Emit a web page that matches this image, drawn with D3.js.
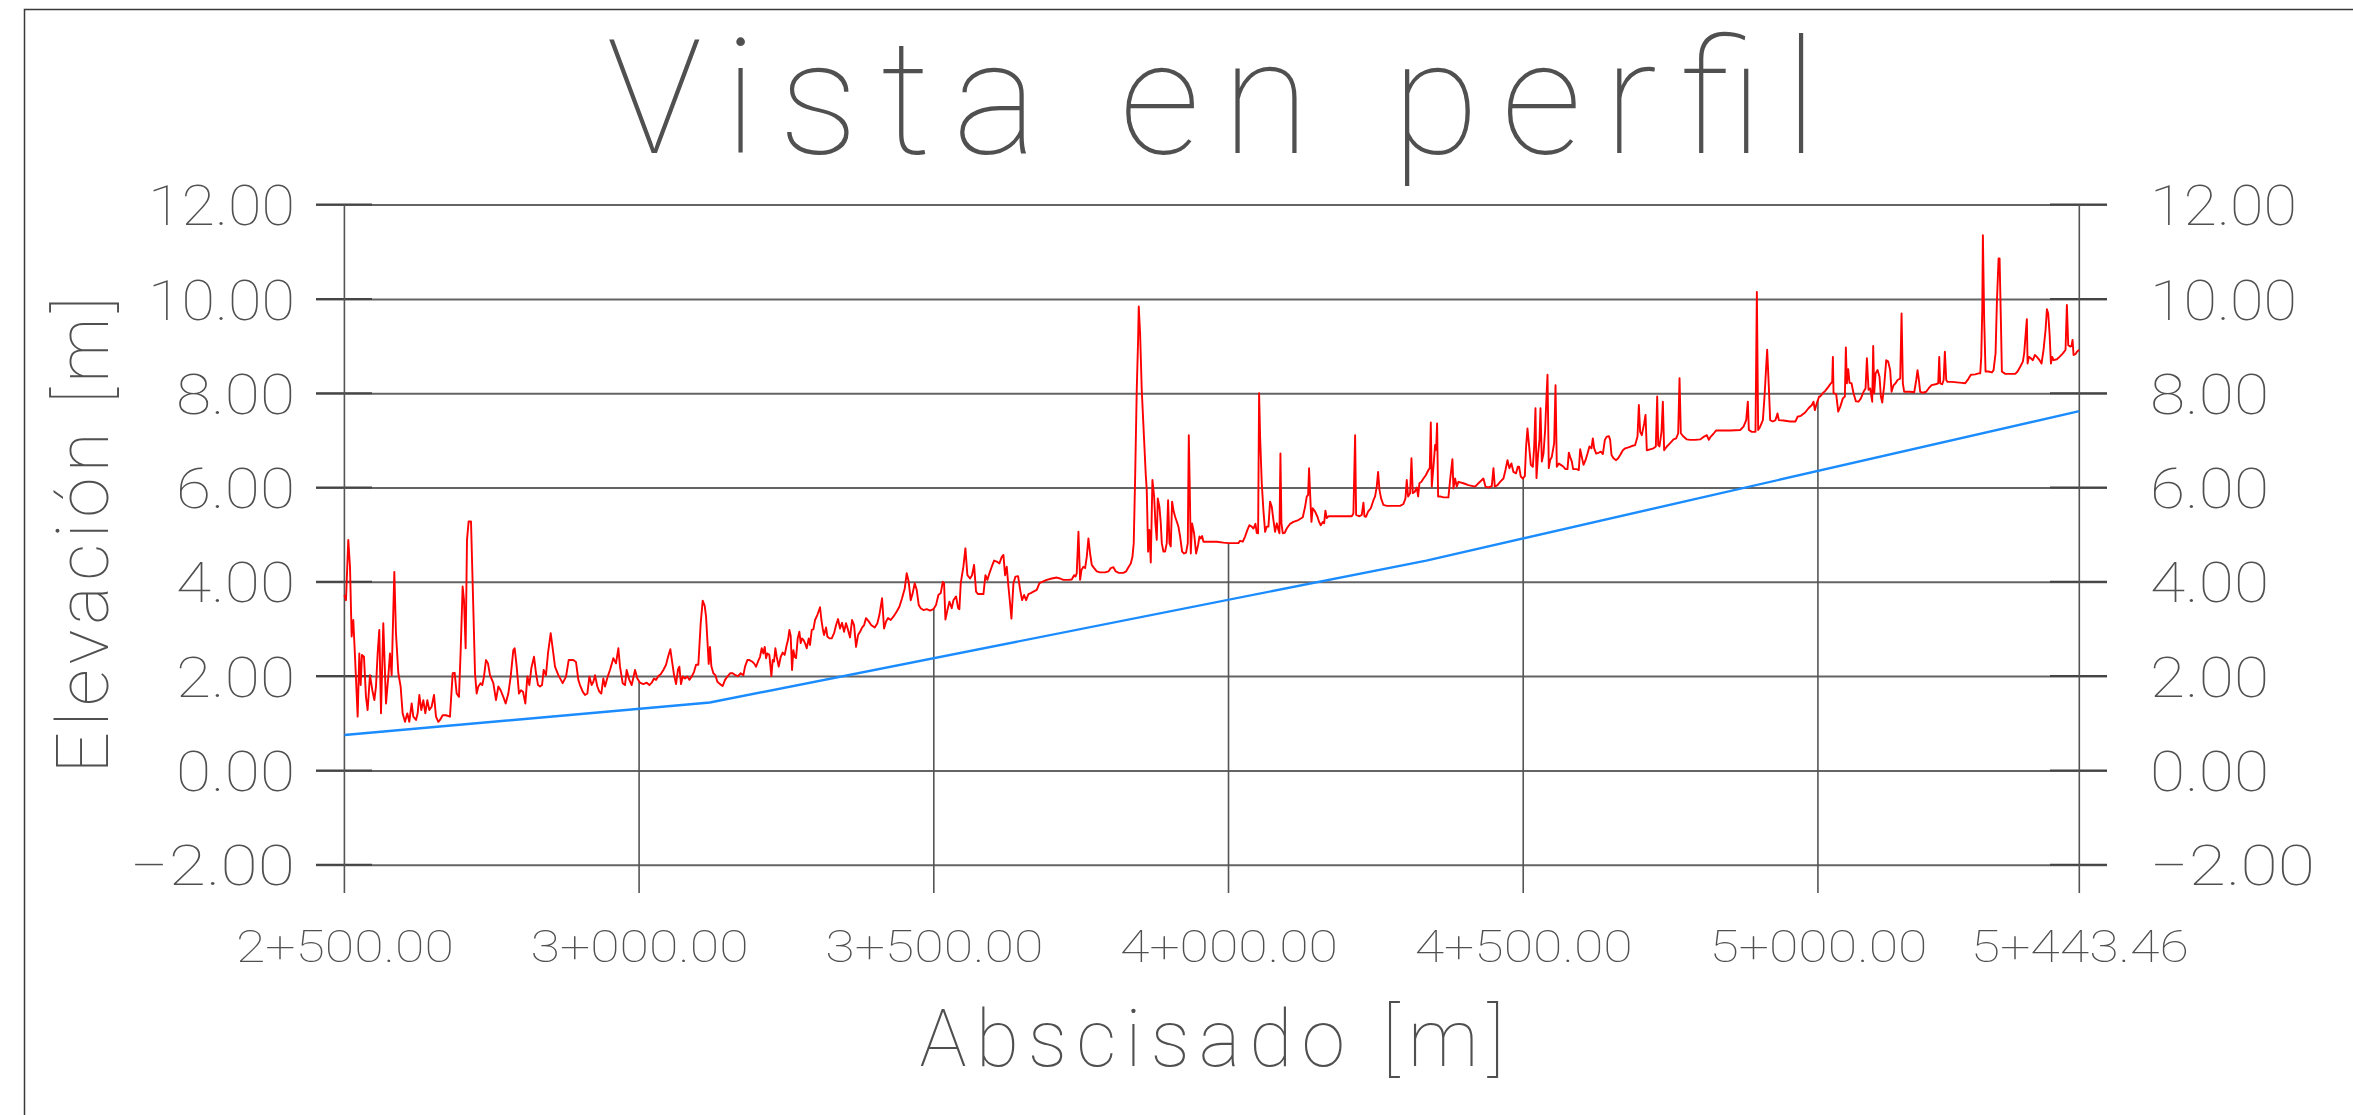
<!DOCTYPE html>
<html>
<head>
<meta charset="utf-8">
<script src="https://cdn.jsdelivr.net/npm/d3@7"></script>
<style>
body { margin: 0; background: #fff; }
text { font-family: Roboto, "Open Sans", sans-serif; font-weight: 100; fill: #505050; }
</style>
</head>
<body>
<div class="chart"></div>
<script>
const tramo1 = [[2500,3.72],[2502.7,3.61],[2506.6,4.89],[2509.5,4.32],[2512.3,2.84],[2515.1,3.19],[2518,2.41],[2522.5,1.14],[2525.3,2.48],[2527.6,1.81],[2529.8,2.45],[2533.2,2.41],[2536.6,1.56],[2539.4,1.28],[2543.4,2.02],[2547.4,1.70],[2550.8,1.49],[2553.6,1.78],[2556.4,2.48],[2559.2,2.98],[2562.1,1.21],[2566,3.12],[2570.6,1.42],[2574.5,1.99],[2577.3,2.48],[2580.2,2.02],[2583,3.40],[2584.7,4.21],[2587.5,2.91],[2591.5,2.06],[2595.4,1.78],[2598.8,1.21],[2602.8,1.03],[2606.8,1.21],[2610.1,1.03],[2614.1,1.42],[2616.9,1.14],[2621.5,1.07],[2624.3,1.21],[2627.1,1.60],[2630.5,1.28],[2633.9,1.49],[2637.3,1.21],[2640.7,1.49],[2644.1,1.28],[2648,1.35],[2652,1.60],[2655.4,1.14],[2659.4,1.03],[2662.2,1.07],[2666.7,1.17],[2672.4,1.17],[2679.1,1.14],[2683.7,2.06],[2687.1,2.07],[2690.5,1.63],[2694.4,1.56],[2697.3,2.55],[2700.6,3.90],[2702.9,3.61],[2705.7,2.59],[2708,4.89],[2710.8,5.28],[2714.8,5.28],[2717.6,3.97],[2721.6,2.06],[2724.4,1.63],[2727.2,1.78],[2731.2,1.85],[2734,1.81],[2736.8,1.99],[2740.2,2.34],[2743.6,2.27],[2747,2.02],[2752.7,1.85],[2757.2,1.49],[2761.2,1.78],[2765.1,1.70],[2769.6,1.56],[2773.6,1.42],[2778.1,1.63],[2782.1,1.99],[2786.6,2.55],[2788.9,2.59],[2792.3,2.20],[2796.2,1.63],[2799.6,1.70],[2803,1.67],[2807,1.42],[2810.4,1.99],[2813.8,1.81],[2817.2,2.17],[2821.7,2.41],[2825.1,2.06],[2828.5,1.81],[2831.9,1.78],[2835.3,1.81],[2838.1,2.13],[2842,2.02],[2845.4,2.48],[2850,2.91],[2853.4,2.59],[2857.3,2.20],[2863,2.02],[2870.3,1.85],[2876,1.99],[2880.5,2.34],[2888.4,2.34],[2892.9,2.30],[2896.9,1.92],[2899.7,1.81],[2904.3,1.67],[2908.2,1.60],[2912.2,1.63],[2915.6,1.99],[2919.5,1.81],[2922.4,1.88],[2925.2,2.02],[2929.1,1.78],[2932.5,1.67],[2935.9,1.63],[2939.3,1.95],[2942.2,1.78],[2946.7,1.99],[2950.6,2.13],[2956.3,2.38],[2960.8,2.27],[2964.8,2.59],[2967.6,2.20],[2972.1,1.85],[2976.1,1.81],[2978.9,2.13],[2983.4,1.92],[2987.4,1.81],[2993.1,2.13],[2997,1.95],[3001.5,1.86]];

const tramo2 = [[3007.2,1.83],[3012.9,1.86],[3017.4,1.81],[3021.4,1.86],[3025.3,1.95],[3028.7,1.92],[3032.7,2.00],[3036.6,2.04],[3041.2,2.13],[3045.7,2.24],[3049.6,2.43],[3053,2.57],[3055.9,2.31],[3059.3,2.02],[3062.7,1.83],[3066,2.14],[3068.3,2.20],[3071.1,1.83],[3074,1.99],[3077.9,1.95],[3081.9,1.99],[3085.3,1.92],[3089.2,1.99],[3093.2,2.09],[3096.6,2.24],[3100.5,2.24],[3104.5,3.12],[3107.9,3.60],[3111.3,3.49],[3113.6,3.26],[3115.8,2.77],[3118.1,2.26],[3120.3,2.62],[3122.6,2.21],[3126,2.06],[3129.4,2.02],[3132.8,1.88],[3137.3,1.83],[3141.8,1.79],[3145.8,1.92],[3149.8,1.99],[3154.4,2.06],[3158.8,2.06],[3163.3,2.02],[3167.9,2.00],[3172.4,2.06],[3176.9,2.02],[3179.7,2.20],[3183.7,2.34],[3187.1,2.34],[3191.6,2.31],[3195,2.27],[3198.4,2.20],[3201.8,2.31],[3205.2,2.41],[3208,2.59],[3210.8,2.48],[3213.1,2.62],[3215.4,2.38],[3217.6,2.48],[3221,2.45],[3224.4,2.00],[3226.7,2.34],[3228.9,2.31],[3231.2,2.59],[3233.5,2.41],[3236.9,2.20],[3240.3,2.41],[3243.6,2.50],[3247,2.45],[3250.4,2.66],[3252.7,2.77],[3255,2.98],[3257.2,2.85],[3259.5,2.13],[3261.7,2.55],[3264,2.41],[3266.3,2.38],[3269.1,2.80],[3271.9,2.94],[3274.2,2.70],[3276.4,2.80],[3278.7,2.77],[3281.5,2.70],[3284.4,2.59],[3287.8,2.80],[3290,2.66],[3292.9,2.98],[3295.7,2.99],[3298.5,3.19],[3302.5,3.30],[3307,3.46],[3309.3,3.19],[3311.5,3.01],[3313.8,2.87],[3317.2,3.03],[3319.4,2.84],[3322.8,2.80],[3326.8,2.80],[3330.8,2.91],[3334.1,3.08],[3337.5,3.21],[3340.9,3.01],[3344.3,3.13],[3347.7,2.94],[3351.1,3.12],[3354.5,2.98],[3357.9,2.82],[3361.3,3.19],[3364.7,3.08],[3368.1,2.62],[3371.5,2.87],[3374.9,2.94],[3378.3,3.03],[3381.7,3.08],[3385,3.23],[3389.6,3.16],[3394.1,3.08],[3399.8,3.03],[3404.3,3.12],[3407.7,3.30],[3412.2,3.65],[3415.6,3.01],[3419,3.16],[3422.4,3.23],[3426.9,3.19],[3431.4,3.26],[3437.1,3.37],[3441.6,3.47],[3446.1,3.65],[3450.7,3.86],[3454,4.18],[3457.4,4.00],[3460.8,3.61],[3464.2,3.76],[3467.6,3.97],[3471,3.83],[3474.4,3.51],[3477.8,3.44],[3482.3,3.40],[3488,3.42],[3493.6,3.39]];

const tramo3 = [[3499.3,3.42],[3503.8,3.51],[3507.8,3.72],[3511.8,3.76],[3515.2,4.00],[3517.4,3.97],[3519.7,3.20],[3523.1,3.40],[3526.5,3.58],[3530.4,3.44],[3533.3,3.61],[3537.8,3.69],[3541.2,3.44],[3543.4,3.42],[3545.7,3.97],[3550.2,4.32],[3553.6,4.71],[3557,4.14],[3561.5,4.07],[3564.9,4.14],[3568.3,4.36],[3571.7,3.79],[3575.1,3.74],[3579.6,3.74],[3584.2,3.74],[3587.6,4.14],[3590.9,4.04],[3594.3,4.18],[3598.3,4.32],[3602.3,4.45],[3606.8,4.43],[3611.3,4.39],[3615.3,4.53],[3618.1,4.57],[3620.9,4.14],[3623.8,4.32],[3626.6,3.90],[3629.4,3.54],[3631.7,3.22],[3635.1,3.97],[3638.5,4.11],[3643,4.12],[3646.5,3.83],[3649.8,3.61],[3653.2,3.72],[3656.6,3.61],[3660.5,3.74],[3664.5,3.76],[3669,3.79],[3674.7,3.83],[3679.2,3.97],[3683.7,4.00],[3691.6,4.04],[3700.1,4.07],[3708.6,4.09],[3714.3,4.07],[3719.9,4.04],[3728.4,4.04],[3734,4.05],[3738,4.14],[3740.3,4.11],[3742.5,4.18],[3745.4,5.06],[3748.2,4.04],[3750.5,4.25],[3753.8,4.32],[3756.7,4.29],[3759.5,4.53],[3762.3,4.92],[3765.2,4.60],[3768,4.36],[3772,4.29],[3776.5,4.22],[3782.1,4.20],[3790.6,4.20],[3796.3,4.22],[3800.2,4.29],[3804.7,4.31],[3808.7,4.22],[3813.8,4.19],[3821.7,4.19],[3826.2,4.22],[3830.2,4.31],[3834.2,4.39],[3837,4.53],[3839.2,4.82],[3841.5,6.16],[3844.3,8.07],[3846.6,9.13],[3847.7,9.84],[3850,9.27],[3852.8,8.07],[3856.8,7.01],[3859.6,6.27],[3861.3,5.95],[3863.6,4.64],[3865.8,5.10],[3868.1,4.41],[3870.9,6.16],[3873.8,5.81],[3876,5.24],[3878.3,4.89],[3880,5.77],[3882.8,5.59],[3885.1,5.24],[3886.8,4.82],[3889.6,4.64],[3892.4,4.64],[3895.2,4.82],[3897.5,5.73],[3899.8,4.82],[3902,4.75],[3904.3,5.70],[3906.6,5.52],[3909.4,5.38],[3912.2,5.28],[3915,5.17],[3917.9,4.96],[3921.3,4.64],[3924.6,4.60],[3928,4.62],[3930.9,4.82],[3932.6,7.11],[3934.3,5.95],[3936,4.60],[3938.2,5.24],[3941.6,5.03],[3945,4.60],[3948.4,4.78],[3950.7,4.96],[3952.9,4.92],[3955.2,4.97],[3957.5,4.85],[3968.8,4.85],[3980.1,4.85],[3991.4,4.83],[3999.9,4.82]];

const tramo4 = [[4008.3,4.82],[4016.8,4.82],[4019.6,4.87],[4024.2,4.85],[4028.1,4.96],[4032.1,5.10],[4035.5,5.20],[4039.4,5.17],[4042.3,5.13],[4045.7,5.23],[4047.9,5.04],[4050.2,5.03],[4051.9,8.00],[4053.6,7.08],[4056.4,6.09],[4059.2,5.52],[4062.1,5.06],[4064.9,5.17],[4067.7,5.17],[4070.5,5.70],[4073.4,5.59],[4076.2,5.31],[4079,5.06],[4081.9,5.24],[4084.7,5.10],[4086.4,5.03],[4088.1,6.72],[4089.8,5.24],[4092,5.03],[4095.4,5.04],[4098.8,5.13],[4104.5,5.23],[4110.1,5.27],[4118.6,5.31],[4126,5.37],[4129.9,5.59],[4132.8,5.81],[4135,5.84],[4136.7,6.41],[4138.4,5.88],[4140.7,5.27],[4142.9,5.56],[4146.9,5.49],[4150.9,5.38],[4153.7,5.27],[4156.5,5.20],[4159.9,5.27],[4162.2,5.24],[4164.4,5.51],[4166.7,5.35],[4169.5,5.39],[4178,5.39],[4189.3,5.39],[4200.6,5.39],[4209.1,5.39],[4211.9,5.45],[4214.8,7.11],[4216.5,5.42],[4222.1,5.39],[4226.1,5.42],[4228.9,5.68],[4230.6,5.39],[4233.4,5.38],[4236.8,5.49],[4241.4,5.56],[4245.9,5.73],[4248.7,5.81],[4251.5,6.02],[4253.8,6.33],[4256.1,5.95],[4258.9,5.77],[4262.8,5.63],[4268.5,5.61],[4279.8,5.61],[4291.1,5.61],[4296.8,5.65],[4300.2,5.77],[4302.4,6.16],[4304.7,5.81],[4308.1,5.88],[4310.4,6.62],[4312.6,5.88],[4316,5.91],[4319.4,6.00],[4321.7,5.81],[4323.9,6.09],[4327.3,6.12],[4330.7,6.19],[4334.7,6.26],[4339.2,6.37],[4341.5,6.41],[4343.2,7.38],[4344.9,6.02],[4347.7,6.44],[4350.5,6.90],[4352.2,6.80],[4353.9,7.36],[4355.6,5.81],[4359,5.81],[4364.7,5.79],[4373.1,5.79],[4376,6.16],[4378.2,6.41],[4379.9,6.60],[4381.6,5.98],[4384.4,6.19],[4387.3,6.02],[4390.1,6.12],[4398.6,6.09],[4407.1,6.05],[4418.4,6.02],[4424,6.09],[4432.5,6.19],[4435.9,6.02],[4441,6.00],[4446.7,6.03],[4449.5,6.41],[4451.8,6.02],[4456.3,6.05],[4460.8,6.12],[4466.5,6.19],[4469.9,6.37],[4473.3,6.58],[4476.6,6.41],[4480,6.51],[4483.4,6.33],[4487.9,6.30],[4490.8,6.44],[4493,6.44],[4495.9,6.23],[4499.3,6.19],[4502.7,6.24],[4504.9,6.87],[4507.2,7.25],[4509.5,6.94],[4511.7,6.65]];

const tramo5 = [[4512.9,6.48],[4516.3,6.44],[4518.6,6.87],[4520.8,7.68],[4522.5,6.20],[4525.3,6.72],[4527.6,7.01],[4529.3,7.68],[4531.6,6.55],[4534.4,6.72],[4537.2,7.22],[4538.9,7.75],[4541.2,8.39],[4543.4,6.41],[4545.7,6.58],[4548.5,6.65],[4552.5,6.94],[4554.8,8.17],[4557,6.44],[4560.4,6.51],[4563.8,6.48],[4568.3,6.44],[4571.7,6.39],[4575.1,6.39],[4577.4,6.74],[4579.6,6.65],[4582.5,6.55],[4584.7,6.39],[4591,6.39],[4594.3,6.37],[4596.6,6.81],[4599.4,6.65],[4602.3,6.48],[4605.7,6.58],[4609.1,6.72],[4612.4,6.87],[4615.8,6.83],[4618.1,7.04],[4620.4,6.83],[4623.8,6.72],[4628.3,6.74],[4631.7,6.76],[4635.1,6.71],[4638.5,7.01],[4641.9,7.08],[4645.3,7.09],[4647.5,7.01],[4649.8,6.69],[4653.2,6.62],[4657.7,6.58],[4661.1,6.62],[4664.5,6.69],[4669,6.79],[4673,6.83],[4678.6,6.85],[4684.3,6.88],[4689.9,6.90],[4693.9,7.08],[4696.2,7.75],[4698.4,7.18],[4701.2,7.11],[4705.2,7.36],[4707.5,7.54],[4709.7,6.79],[4715.4,6.81],[4721,6.83],[4725,6.87],[4727.3,7.93],[4729,6.90],[4731.2,6.87],[4734.6,7.18],[4736.9,7.82],[4739.1,6.79],[4743.7,6.87],[4749.3,6.94],[4755,7.02],[4759.5,7.04],[4762.9,7.15],[4765.2,8.32],[4767.4,7.15],[4771.9,7.08],[4777.6,7.02],[4783.3,7.01],[4791.7,7.01],[4800.2,7.02],[4807,7.08],[4811.5,7.11],[4814.9,7.01],[4818.3,7.08],[4822.8,7.14],[4827.4,7.21],[4834.2,7.21],[4851.1,7.21],[4868.1,7.22],[4873.8,7.29],[4878.3,7.43],[4881.1,7.82],[4882.8,7.22],[4887.9,7.18],[4894.1,7.18],[4896.4,10.15],[4898.6,7.22],[4902,7.29],[4906.6,7.43],[4909.4,7.93],[4912.2,8.56],[4913.9,8.92],[4916.7,8.14],[4919,7.43],[4923.5,7.40],[4928,7.43],[4931.4,7.57],[4933.7,7.43],[4941.6,7.42],[4952.9,7.40],[4962,7.40],[4965.4,7.50],[4971,7.52],[4978.4,7.59],[4984,7.68],[4989.7,7.75],[4992.5,7.82],[4994.8,7.64],[4998.2,7.79],[5002.1,7.93]];

const tramo6 = [[5003.9,7.93],[5008.4,8.00],[5012.4,8.05],[5018,8.14],[5022,8.21],[5024.2,8.24],[5025.4,8.77],[5026.5,8.00],[5031,7.98],[5034.4,7.61],[5037.8,7.71],[5042.3,7.89],[5045.7,7.93],[5047.4,8.97],[5049.1,8.21],[5051.4,8.51],[5053.6,8.22],[5057,8.21],[5060.4,8.00],[5064.4,7.83],[5068.9,7.82],[5072.9,7.89],[5077.4,8.03],[5080.8,8.10],[5083.1,8.74],[5085.9,8.07],[5088.7,8.10],[5092.1,7.82],[5093.8,9.00],[5095.5,8.00],[5097.8,8.42],[5101.2,8.49],[5104.5,8.35],[5106.8,7.93],[5109.1,7.80],[5112.5,8.17],[5115.9,8.70],[5119.2,8.67],[5122.6,8.49],[5124.9,8.03],[5128.3,8.17],[5131.7,8.21],[5135.1,8.28],[5139.6,8.31],[5141.9,9.69],[5144.1,8.21],[5146.4,8.03],[5156.6,8.03],[5163.4,8.02],[5166.8,8.28],[5169,8.49],[5171.3,8.28],[5173.5,8.03],[5178.1,8.01],[5183.7,8.03],[5187.7,8.10],[5192.8,8.17],[5199.6,8.19],[5204.1,8.21],[5205.8,8.77],[5207.5,8.21],[5210.9,8.19],[5213.3,8.28],[5215.4,8.88],[5217.7,8.28],[5219.9,8.24],[5227.3,8.24],[5235.8,8.23],[5244.2,8.22],[5249.9,8.21],[5255.6,8.31],[5259.5,8.39],[5266.9,8.40],[5272.5,8.42],[5275.4,8.42],[5277.1,8.77],[5278.8,9.76],[5279.9,11.35],[5282.1,9.55],[5284.4,8.46],[5289.5,8.46],[5295.2,8.44],[5298,8.49],[5301.4,8.85],[5303.6,9.91],[5306.5,10.86],[5308.2,10.86],[5310.4,9.55],[5312.1,8.46],[5317.8,8.41],[5326.3,8.41],[5334.7,8.41],[5338.7,8.46],[5343.2,8.56],[5347.7,8.67],[5350,8.85],[5353.4,9.41],[5354.5,9.57],[5355.7,8.63],[5357.9,8.77],[5361.3,8.74],[5364.7,8.70],[5368.1,8.81],[5371.5,8.77],[5376,8.70],[5379.4,8.63],[5382.8,8.92],[5386.2,9.34],[5388.5,9.78],[5390.7,9.69],[5393,9.27],[5395.3,8.63],[5397.5,8.77],[5399.8,8.70],[5405.4,8.72],[5409.9,8.77],[5414.5,8.83],[5417.9,8.88],[5420.1,8.92],[5422.4,9.87],[5424.7,9.02],[5428.1,8.99],[5430.3,9.00],[5432,9.13],[5433.7,8.81],[5437.1,8.83],[5439.4,8.88],[5443.46,8.92]];

// rasante (linea azul)
const rasanteEst = [2500, 3120, 4335.6, 5443.46];
const rasanteCota = [0.75, 1.44, 4.45, 7.62];

const abscisas = [2500, 3000, 3500, 4000, 4500, 5000, 5443.46];
const cotas = [-2, 0, 2, 4, 6, 8, 10, 12];

const terreno = tramo1.concat(tramo2, tramo3, tramo4, tramo5, tramo6);
const rasante = rasanteEst.map((s, i) => [s, rasanteCota[i]]);

const width = 2353, height = 1115;
const gridLeft = 316, gridRight = 2107, bottomY = 893;

const svg = d3.select('.chart')
    .append('svg')
    .attr('width', width)
    .attr('height', height);

const xScale = d3.scaleLinear()
    .domain([2500, 5443.46])
    .range([344.4, 2079.3]);

const yScale = d3.scaleLinear()
    .domain([-2, 12])
    .range([864.7, 204.6]);

// marco
svg.append('path')
    .attr('d', 'M24.5,1115V9.5H2353')
    .attr('fill', 'none')
    .attr('stroke', '#3a3a3a')
    .attr('stroke-width', 1.5);

const fmtCota = d3.format('.2f');
const labelLen = d => d < 0 ? 165 : (d >= 10 ? 147 : 119);

// rejilla horizontal + etiquetas izquierda
const yAxisL = d3.axisLeft(yScale)
    .tickValues(cotas)
    .tickFormat(fmtCota)
    .tickSize(gridRight - gridLeft)
    .tickPadding(21);

const gL = svg.append('g')
    .attr('class', 'axis y-left')
    .attr('transform', `translate(${gridRight},0)`)
    .call(yAxisL);
gL.select('.domain').remove();
gL.selectAll('line').attr('stroke', '#646464').attr('stroke-width', 2);
gL.selectAll('text')
    .attr('font-size', 56)
    .attr('dy', '0.36em')
    .attr('textLength', labelLen)
    .attr('lengthAdjust', 'spacingAndGlyphs');

// etiquetas derecha
const yAxisR = d3.axisRight(yScale)
    .tickValues(cotas)
    .tickFormat(fmtCota)
    .tickSize(gridRight - gridLeft)
    .tickPadding(43);

const gR = svg.append('g')
    .attr('class', 'axis y-right')
    .attr('transform', `translate(${gridLeft},0)`)
    .call(yAxisR);
gR.select('.domain').remove();
gR.selectAll('line').attr('stroke', 'none');
gR.selectAll('text')
    .attr('font-size', 56)
    .attr('dy', '0.36em')
    .attr('textLength', labelLen)
    .attr('lengthAdjust', 'spacingAndGlyphs');

// marcas cortas mas oscuras junto a los ejes
svg.append('g').selectAll('line')
    .data(cotas)
    .join('line')
    .attr('x1', gridLeft).attr('x2', gridLeft + 56)
    .attr('y1', d => yScale(d)).attr('y2', d => yScale(d))
    .attr('stroke', '#444').attr('stroke-width', 2);
svg.append('g').selectAll('line')
    .data(cotas)
    .join('line')
    .attr('x1', gridRight - 57).attr('x2', gridRight)
    .attr('y1', d => yScale(d)).attr('y2', d => yScale(d))
    .attr('stroke', '#444').attr('stroke-width', 2);

// cota del terreno en una abscisa
const bis = d3.bisector(d => d[0]).left;
function cotaTerreno(s) {
    const i = bis(terreno, s);
    if (i <= 0) return terreno[0][1];
    if (i >= terreno.length) return terreno[terreno.length - 1][1];
    const a = terreno[i - 1], b = terreno[i];
    return a[1] + (b[1] - a[1]) * (s - a[0]) / (b[0] - a[0]);
}

// lineas verticales
svg.append('g').selectAll('line')
    .data(abscisas)
    .join('line')
    .attr('x1', d => xScale(d)).attr('x2', d => xScale(d))
    .attr('y1', (d, i) => (i === 0 || i === abscisas.length - 1) ? yScale(12) : yScale(cotaTerreno(d)))
    .attr('y2', bottomY)
    .attr('stroke', '#555')
    .attr('stroke-width', 1.6);

// etiquetas de abscisa
const fmtAbs = d => Math.floor(d / 1000) + '+' + d3.format('06.2f')(d % 1000);
const xAxis = d3.axisBottom(xScale)
    .tickValues(abscisas)
    .tickFormat(fmtAbs)
    .tickSize(0)
    .tickPadding(37);

const gX = svg.append('g')
    .attr('class', 'axis x-axis')
    .attr('transform', `translate(0,${bottomY})`)
    .call(xAxis);
gX.select('.domain').remove();
gX.selectAll('text')
    .attr('font-size', 45)
    .attr('textLength', 218)
    .attr('lengthAdjust', 'spacingAndGlyphs');

const line = d3.line()
    .x(d => xScale(d[0]))
    .y(d => yScale(d[1]));

svg.append('path')
    .datum(rasante)
    .attr('d', line)
    .attr('fill', 'none')
    .attr('stroke', '#1a8cff')
    .attr('stroke-width', 2.4);

svg.append('path')
    .datum(terreno)
    .attr('d', line)
    .attr('fill', 'none')
    .attr('stroke', '#ff0000')
    .attr('stroke-width', 1.9)
    .attr('stroke-linejoin', 'round');

// titulos
svg.append('text')
    .attr('x', 1212).attr('y', 153)
    .attr('text-anchor', 'middle')
    .attr('font-size', 160)
    .attr('textLength', 1211)
    .attr('lengthAdjust', 'spacing')
    .text('Vista en perfil');

svg.append('text')
    .attr('x', 1212).attr('y', 1066)
    .attr('text-anchor', 'middle')
    .attr('font-size', 79)
    .attr('textLength', 585)
    .attr('lengthAdjust', 'spacing')
    .text('Abscisado [m]');

svg.append('text')
    .attr('transform', 'translate(108,535) rotate(-90)')
    .attr('text-anchor', 'middle')
    .attr('font-size', 73)
    .attr('textLength', 477)
    .attr('lengthAdjust', 'spacing')
    .text('Elevación [m]');
</script>
</body>
</html>
